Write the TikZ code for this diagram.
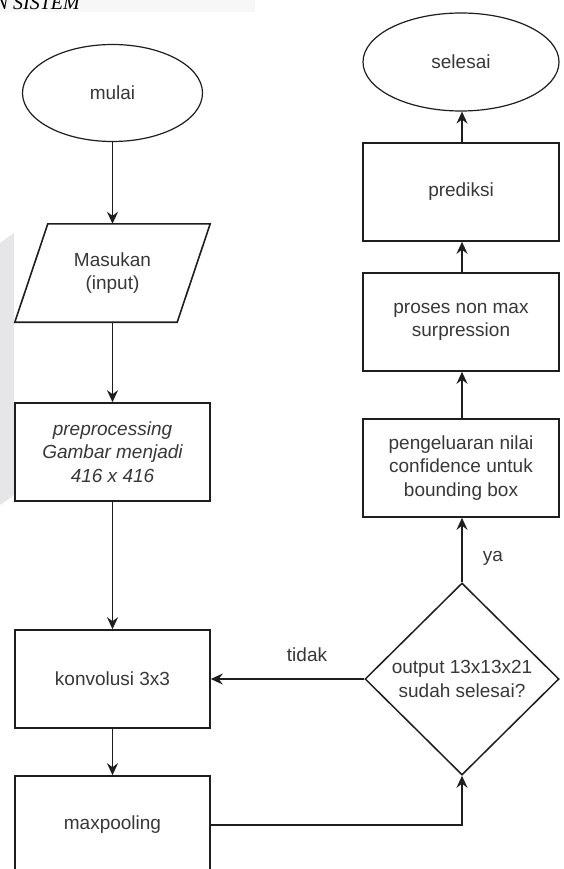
\documentclass[tikz,border=0pt]{standalone}
\usepackage{fontspec}
\setmainfont{Liberation Sans}
\newfontfamily\headfont{Liberation Serif}
\usetikzlibrary{arrows.meta,shapes.geometric}
\definecolor{txt}{HTML}{383838}
\definecolor{ln}{HTML}{1E1E1E}
\definecolor{wm}{HTML}{E6E6E9}
\definecolor{hdr}{HTML}{F7F7F7}
\begin{document}
\begin{tikzpicture}[x=1pt,y=-1pt,
  every node/.style={font=\fontsize{19}{23.5}\selectfont, text=txt},
  box/.style={draw=ln, line width=1.6pt, minimum width=195pt, minimum height=98pt, align=center, inner sep=0pt},
  term/.style={draw=ln, line width=1.2pt, ellipse, inner sep=0pt},
  decis/.style={draw=ln, line width=1.5pt, diamond, minimum width=194pt, minimum height=192pt, inner sep=0pt, align=center},
  arr/.style={draw=ln, line width=1.6pt, -{Stealth[length=12pt,width=11pt,inset=4pt]}}
]
\useasboundingbox (0,0) rectangle (563,869);
\clip (0,0) rectangle (563,869);
\fill[white] (0,0) rectangle (563,869);
% header fragment
\fill[hdr] (0,0) rectangle (255,12);
\node[anchor=base east, inner sep=0pt, text=black, font=\headfont\itshape\fontsize{20}{24}\selectfont] (hd) at (80,9.5) {N SISTEM};
% watermark fragment
\fill[wm] (0,243) -- (14,233) -- (14,495) -- (0,505) -- cycle;

% left column
\node[term, minimum width=180pt, minimum height=97pt] (mulai) at (112.5,93) {mulai};
\node[minimum width=162pt, minimum height=98pt, inner sep=0pt, align=center] (inp) at (112.5,273) {Masukan\\(input)};
\draw[draw=ln, line width=1.6pt] ([xshift=16.5pt]inp.north west) -- ([xshift=16.5pt]inp.north east)
  -- ([xshift=-16.5pt]inp.south east) -- ([xshift=-16.5pt]inp.south west) -- cycle;
\node[box] (prep) at (112.5,452) {\itshape preprocessing\\\itshape Gambar menjadi\\\itshape 416 x 416};
\node[box] (konv) at (112.5,679) {konvolusi 3x3};
\node[box] (maxp) at (112.5,825) {maxpooling};

% right column
\node[term, minimum width=196pt, minimum height=98pt] (sel) at (461,62) {selesai};
\node[box, minimum width=196pt] (pred) at (461,192) {prediksi};
\node[box, minimum width=196pt] (nms) at (461,322) {proses non max\\surpression};
\node[box, minimum width=196pt] (conf) at (461,468) {pengeluaran nilai\\confidence untuk\\bounding box};
\node[decis] (dec) at (462,679) {output 13x13x21\\sudah selesai?};

% labels
\node (tidak) at (307,655) {tidak};
\node (ya) at (493,558) {ya};

% connectors
\draw[arr] (mulai.south) -- (inp.north);
\draw[arr] (inp.south) -- (prep.north);
\draw[arr] (prep.south) -- (konv.north);
\draw[arr] (konv.south) -- (maxp.north);
\draw[arr] (maxp.east) -| (dec.south);
\draw[arr] (dec.west) -- (konv.east);
\draw[arr] (dec.north) -- (dec.north |- conf.south);
\draw[arr] (conf.north -| dec.north) -- (dec.north |- nms.south);
\draw[arr] (nms.north -| dec.north) -- (dec.north |- pred.south);
\draw[arr] (pred.north -| dec.north) -- (dec.north |- sel.south);
\end{tikzpicture}
\end{document}
